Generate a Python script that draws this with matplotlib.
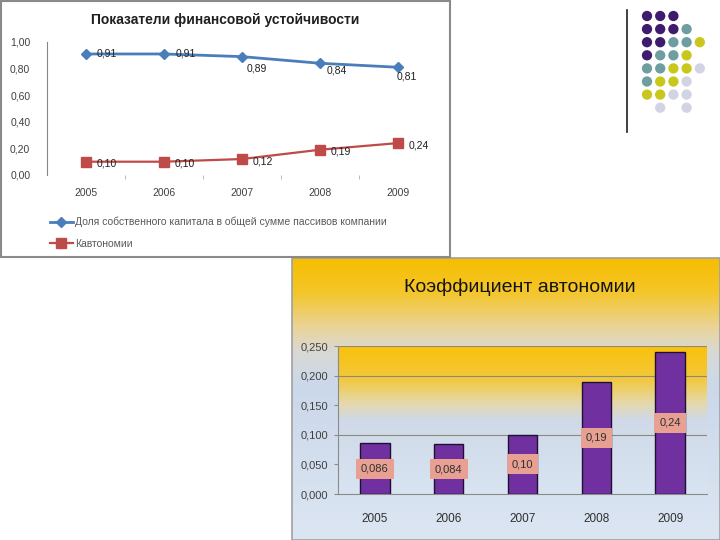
import numpy as np
import matplotlib.pyplot as plt
from matplotlib.colors import LinearSegmentedColormap
from matplotlib.patches import Rectangle
from matplotlib.lines import Line2D

# данные
years = ['2005', '2006', '2007', '2008', '2009']
equity_share = [0.91, 0.91, 0.89, 0.84, 0.81]
autonomy = [0.10, 0.10, 0.12, 0.19, 0.24]
bar_values = [0.086, 0.084, 0.10, 0.19, 0.24]
bar_labels = ['0,086', '0,084', '0,10', '0,19', '0,24']
line_yticks = [0, 0.2, 0.4, 0.6, 0.8, 1.0]
bar_yticks = [0, 0.05, 0.10, 0.15, 0.20, 0.25]
bar_gridlines = [0.10, 0.20, 0.25]

# декоративные кружки (P - фиолетовый, T - бирюзовый, Y - жёлтый, L - сиреневый)
dot_rows = ['PPP..',
            'PPPT.',
            'PPTTY',
            'PTTY.',
            'TTYYL',
            'TYYL.',
            'YYLL.',
            '.L.L.']
dot_colors = {'P': '#3d1c6e', 'T': '#6f9ea0', 'Y': '#c9c71c', 'L': '#d3d3e6'}

W, H = 720, 540


def px(x, y, w, h):
    return [x / W, 1 - (y + h) / H, w / W, h / H]


def comma(v, n=2):
    return f'{v:.{n}f}'.replace('.', ',')


plt.rcParams['font.family'] = ['Liberation Sans', 'DejaVu Sans']
fig = plt.figure(figsize=(7.2, 5.4), dpi=100)

# ---------- верхний график ----------
fig.patches.append(Rectangle((1 / W, 1 - 257 / H), 449 / W, 256 / H, transform=fig.transFigure,
                             fill=False, edgecolor='#8a8a8a', lw=1.5))
fig.text(225 / W, 1 - 20 / H, 'Показатели финансовой устойчивости', ha='center', va='center',
         fontsize=10, weight='bold', color='#202020')

ax1 = fig.add_axes(px(47, 42, 390, 133))
x = np.arange(len(years))
l1, = ax1.plot(x, equity_share, color='#4a7ebb', marker='D', ms=5, lw=2,
               label='Доля собственного капитала в общей сумме пассивов компании')
l2, = ax1.plot(x, autonomy, color='#be4b48', marker='s', ms=7, lw=1.6, label='Кавтономии')

blue_off = [(11, 0), (12, 0), (5, -12), (7, -7), (-1, -9)]
for i, v in enumerate(equity_share):
    ax1.annotate(comma(v), (i, v), xytext=blue_off[i], textcoords='offset pixels',
                 ha='left', va='center', fontsize=7.5, color='#202020')
for i, v in enumerate(autonomy):
    ax1.annotate(comma(v), (i, v), xytext=(11, -2), textcoords='offset pixels',
                 ha='left', va='center', fontsize=7.5, color='#202020')

ax1.set_xlim(-0.5, 4.5)
ax1.set_ylim(0, 1)
ax1.set_yticks(line_yticks)
ax1.set_yticklabels([comma(v) for v in line_yticks])
ax1.set_xticks(x)
ax1.set_xticklabels(years)
ax1.set_xticks(x[:-1] + 0.5, minor=True)
ax1.tick_params(axis='y', length=0, pad=12, labelsize=7.5, labelcolor='#404040')
ax1.tick_params(axis='x', which='major', length=0, pad=9, labelsize=7.5, labelcolor='#404040')
ax1.tick_params(axis='x', which='minor', length=3, color='#b0b0b0')
for s in ['top', 'right', 'bottom']:
    ax1.spines[s].set_visible(False)
ax1.spines['left'].set_color('#868686')
leg = ax1.legend(handles=[l1, l2], loc='upper left', bbox_to_anchor=(50 / W, 1 - 217 / H),
                 bbox_transform=fig.transFigure, frameon=False, fontsize=7.5,
                 handlelength=2.2, handletextpad=0.2, labelspacing=1.1, borderpad=0, borderaxespad=0)
for t in leg.get_texts():
    t.set_color('#595959')

# ---------- декор ----------
ax3 = fig.add_axes(px(620, 0, 100, 130))
xmin = -27 / 13.2
ax3.set_xlim(xmin, xmin + 100 / 13.2)
ymin = -16 / 13.1
ax3.set_ylim(ymin + 130 / 13.1, ymin)
for r, row in enumerate(dot_rows):
    for c, ch in enumerate(row):
        if ch in dot_colors:
            ax3.scatter(c, r, s=55, color=dot_colors[ch], edgecolors='none')
ax3.set_axis_off()
fig.add_artist(Line2D([627 / W, 627 / W], [1 - 10 / H, 1 - 132 / H], transform=fig.transFigure,
                      color='#202020', lw=1.2))

# ---------- нижний график ----------
outer_cmap = LinearSegmentedColormap.from_list('outer', [
    (0.0, '#f7bd00'), (0.12, '#f4c62a'), (0.25, '#e9d49c'), (0.33, '#d9d9d4'),
    (0.45, '#cbd8ea'), (1.0, '#dce6f3')])
inner_cmap = LinearSegmentedColormap.from_list('inner', [
    (0.0, '#fbc20a'), (0.22, '#f2c83c'), (0.38, '#e6d8a8'), (0.5, '#cfd9e8'), (1.0, '#d9e4f3')])
grad = np.linspace(0, 1, 256).reshape(-1, 1)

axb = fig.add_axes(px(292, 258, 428, 282))
axb.imshow(grad, aspect='auto', cmap=outer_cmap, extent=[0, 1, 0, 1])
axb.set_xlim(0, 1)
axb.set_ylim(0, 1)
axb.set_axis_off()
axb.add_patch(Rectangle((0, 0), 1, 1, transform=axb.transAxes, fill=False,
                        edgecolor='#a0a0a0', lw=1.2, clip_on=False))

fig.text(520 / W, 1 - 287 / H, 'Коэффициент автономии', ha='center', va='center',
         fontsize=14, color='#141414')

ax2 = fig.add_axes(px(338, 346, 369, 148))
ax2.imshow(grad, aspect='auto', cmap=inner_cmap, extent=[-0.5, 4.5, 0, 0.25], zorder=0)
for g in bar_gridlines:
    ax2.axhline(g, color='#8a8a7a', lw=0.8, zorder=1)
ax2.bar(x, bar_values, width=0.4, color='#7030a0', edgecolor='#1f0f30', lw=1, zorder=3)
for i, v in enumerate(bar_values):
    ax2.text(i, v / 2, bar_labels[i], ha='center', va='center', fontsize=8, color='#303030', zorder=4,
             bbox=dict(boxstyle='square,pad=0.45', fc='#e8a092', ec='none'))
ax2.set_xlim(-0.5, 4.5)
ax2.set_ylim(0, 0.25)
ax2.set_yticks(bar_yticks)
ax2.set_yticklabels([comma(v, 3) for v in bar_yticks])
ax2.set_xticks(x)
ax2.set_xticklabels(years)
ax2.tick_params(axis='y', length=3, color='#8a8a8a', pad=4, labelsize=8, labelcolor='#404040')
ax2.tick_params(axis='x', length=0, pad=14, labelsize=8.5, labelcolor='#303030')
for s in ['top', 'right']:
    ax2.spines[s].set_visible(False)
ax2.spines['left'].set_color('#8a8a8a')
ax2.spines['bottom'].set_color('#8a8a8a')

fig.savefig('out.png', dpi=100)
